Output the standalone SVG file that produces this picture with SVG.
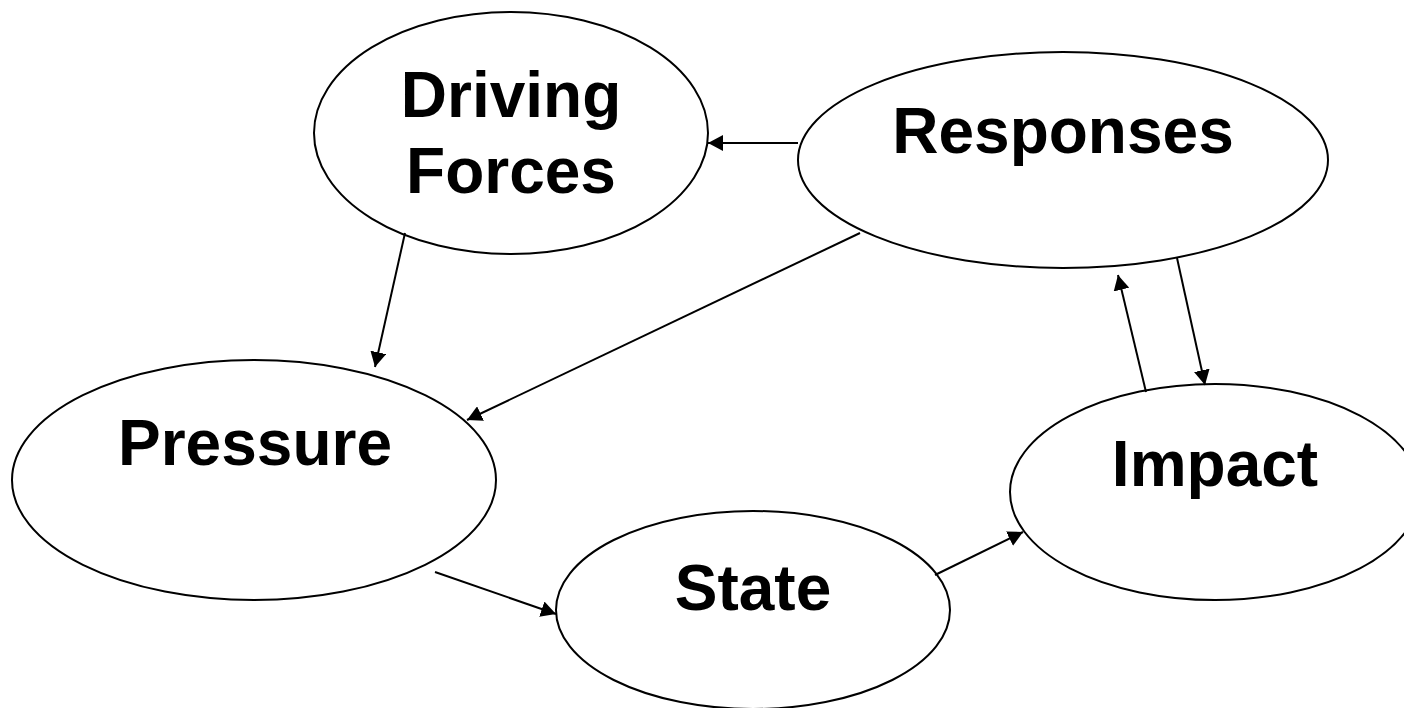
<svg xmlns="http://www.w3.org/2000/svg" width="1404" height="708" viewBox="0 0 1404 708">
<defs>
<marker id="arr" markerUnits="userSpaceOnUse" markerWidth="15" markerHeight="16" viewBox="0 0 15 16" refX="15" refY="8" orient="auto">
<path d="M0,0 L15,8 L0,16 z" fill="#000"/>
</marker>
<style>
.node ellipse{fill:#fff;stroke:#000;stroke-width:2}
.node text{font-family:"Liberation Sans",Arial,sans-serif;font-weight:bold;font-size:64px;fill:#000;text-anchor:middle}
#connectors line{stroke:#000;stroke-width:2;marker-end:url(#arr)}
</style>
</defs>
<rect width="1404" height="708" fill="#fff"/>
<g id="driving-forces" class="node">
<ellipse cx="511" cy="133" rx="197" ry="121"/>
<text x="511" y="117">Driving</text>
<text x="511" y="193">Forces</text>
</g>
<g id="responses" class="node">
<ellipse cx="1063" cy="160" rx="265" ry="108"/>
<text x="1063" y="153">Responses</text>
</g>
<g id="pressure" class="node">
<ellipse cx="254" cy="480" rx="242" ry="120"/>
<text x="255" y="465">Pressure</text>
</g>
<g id="state" class="node">
<ellipse cx="753" cy="610" rx="197" ry="99"/>
<text x="753" y="610">State</text>
</g>
<g id="impact" class="node">
<ellipse cx="1215" cy="492" rx="205" ry="108"/>
<text x="1215" y="486">Impact</text>
</g>
<g id="connectors">
<line x1="798" y1="143" x2="708" y2="143"/>
<line x1="405" y1="233" x2="375" y2="367"/>
<line x1="860" y1="233" x2="467" y2="420"/>
<line x1="435" y1="572" x2="556" y2="614"/>
<line x1="935" y1="575" x2="1023" y2="532"/>
<line x1="1146" y1="392" x2="1118" y2="275"/>
<line x1="1177" y1="258" x2="1205" y2="385"/>
</g>
</svg>
